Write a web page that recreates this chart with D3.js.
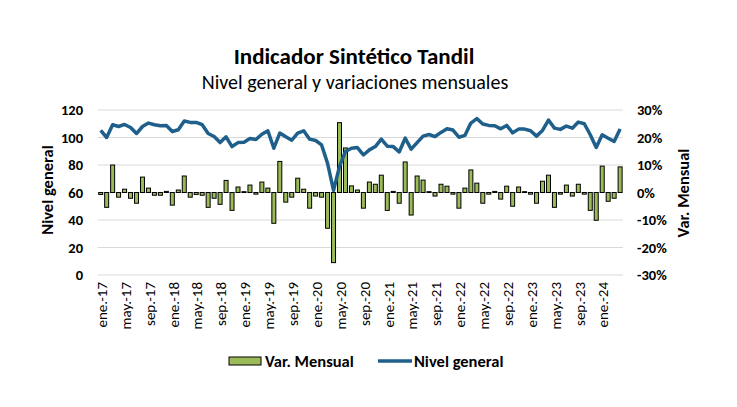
<!DOCTYPE html>
<html><head><meta charset="utf-8">
<script src="https://cdn.jsdelivr.net/npm/d3@7"></script>
<style>
body{margin:0;background:#fff;}
svg{font-family:Carlito,Calibri,Lato,"Open Sans",sans-serif;}
</style></head>
<body><svg id="c" width="737" height="407"></svg>
<script>
const monthNames = ["ene","feb","mar","abr","may","jun","jul","ago","sep","oct","nov","dic"];
const years = ["17","18","19","20","21","22","23","24"];
const nMonths = 88;
const nivel = [105.1,100.0,109.3,108.0,109.5,107.3,102.9,108.0,110.5,109.3,108.5,108.8,
 104.4,105.6,112.0,111.0,111.0,109.3,102.9,100.7,96.3,100.5,93.4,96.3,
 96.6,99.3,98.5,102.4,104.9,92.2,103.2,100.5,98.0,103.2,104.9,98.8,
 97.8,94.6,81.2,61.5,79.0,89.8,92.2,92.7,87.3,91.0,93.4,98.8,
 93.7,93.4,89.5,99.5,91.5,96.3,101.0,102.2,100.7,103.7,106.3,105.4,
 100.2,101.5,110.5,113.7,109.8,108.8,108.5,106.3,108.8,103.4,106.1,106.1,
 104.9,101.0,105.1,112.7,106.8,105.9,108.3,106.8,111.2,110.0,102.0,92.7,
 102.0,99.5,97.1,106.1];
const variacion = [-0.7,-5.4,10.0,-1.7,1.2,-2.1,-3.9,5.6,1.6,-1.0,-1.0,0.4,
 -4.6,0.9,6.0,-1.7,-0.7,-1.0,-5.4,-2.1,-4.3,4.4,-6.5,2.0,
 0.3,2.7,-0.6,3.8,1.6,-11.2,11.3,-3.5,-1.7,5.2,1.2,-5.7,
 -1.3,-1.7,-13.0,-25.5,25.4,16.2,2.4,0.9,-5.7,3.8,3.0,6.3,
 -6.5,0.4,-3.9,11.1,-8.2,6.0,4.5,0.3,-1.3,3.0,2.3,-0.6,
 -5.7,1.6,8.2,3.4,-3.9,-0.6,0.4,-2.4,2.3,-5.0,2.0,0.3,
 -0.6,-3.9,4.1,6.3,-5.4,-0.6,2.7,-1.3,3.0,-0.6,-6.5,-10.1,
 9.6,-3.2,-2.1,9.3];
const leftTicks = [0,20,40,60,80,100,120];
const rightTicks = [-0.3,-0.2,-0.1,0,0.1,0.2,0.3];

const categories = d3.range(nMonths).map(i => monthNames[i % 12] + ".-" + years[Math.floor(i / 12)]);

const svg = d3.select("#c");
const x = d3.scaleBand().domain(categories).range([97.7, 623.1]).paddingInner(0.33).paddingOuter(0.165);
const yL = d3.scaleLinear().domain([0,120]).range([275,110]);
const yR = d3.scaleLinear().domain([-0.3,0.3]).range([275,110]);
const cx = c => x(c) + x.bandwidth()/2;

// gridlines
svg.append("g").selectAll("line").data(leftTicks).join("line")
  .attr("x1",97.7).attr("x2",623.1).attr("y1",d=>yL(d)).attr("y2",d=>yL(d))
  .attr("stroke","#d9d9d9").attr("stroke-width",1);

// left axis labels
svg.append("g").selectAll("text").data(leftTicks).join("text")
  .attr("x",83).attr("y",d=>yL(d)).attr("dy","0.35em").attr("text-anchor","end")
  .attr("font-size",14.5).attr("font-weight","bold").attr("fill","#000").text(d=>d);
// right axis labels
const pct = d3.format(".0%");
svg.append("g").selectAll("text").data(rightTicks).join("text")
  .attr("x",637).attr("y",d=>yR(d)).attr("dy","0.35em").attr("text-anchor","start")
  .attr("font-size",14.5).attr("font-weight","bold").attr("fill","#000").text(d=>pct(d).replace("−","-"));

// bars
svg.append("g").selectAll("rect").data(variacion).join("rect")
  .attr("x",(d,i)=>x(categories[i])).attr("width",x.bandwidth())
  .attr("y",d=>yR(Math.max(0,d/100))).attr("height",d=>Math.abs(yR(d/100)-yR(0)))
  .attr("fill","#9bbb59").attr("stroke","#000").attr("stroke-width",1);

// line
const line = d3.line().x((d,i)=>cx(categories[i])).y(d=>yL(d));
svg.append("path").datum(nivel).attr("d",line).attr("fill","none")
  .attr("stroke","#1f5f8b").attr("stroke-width",3.5).attr("stroke-linejoin","round");

// x labels
svg.append("g").selectAll("text").data(categories.filter((c,i)=>i%4===0)).join("text")
  .attr("transform",c=>`translate(${cx(c)+1},282) rotate(-90)`)
  .attr("dy","0.35em").attr("text-anchor","end").attr("font-size",15).attr("fill","#000").text(c=>c);

// titles
svg.append("text").attr("x",354).attr("y",64).attr("text-anchor","middle")
  .attr("font-size",23).attr("font-weight","bold").text("Indicador Sintético Tandil");
svg.append("text").attr("x",355).attr("y",89).attr("text-anchor","middle")
  .attr("font-size",20).text("Nivel general y variaciones mensuales");
svg.append("text").attr("transform","translate(47,190) rotate(-90)").attr("dy","0.35em")
  .attr("text-anchor","middle").attr("font-size",16.5).attr("font-weight","bold").text("Nivel general");
svg.append("text").attr("transform","translate(683,193) rotate(-90)").attr("dy","0.35em")
  .attr("text-anchor","middle").attr("font-size",16.5).attr("font-weight","bold").text("Var. Mensual");

// legend
const lg = svg.append("g");
lg.append("rect").attr("x",229).attr("y",357).attr("width",32).attr("height",8)
  .attr("fill","#9bbb59").attr("stroke","#000").attr("stroke-width",1);
lg.append("text").attr("x",265).attr("y",361).attr("dy","0.35em").attr("font-size",16.5)
  .attr("font-weight","bold").text("Var. Mensual");
lg.append("line").attr("x1",378).attr("x2",412).attr("y1",361).attr("y2",361)
  .attr("stroke","#1f5f8b").attr("stroke-width",3.5);
lg.append("text").attr("x",414).attr("y",361).attr("dy","0.35em").attr("font-size",16.5)
  .attr("font-weight","bold").text("Nivel general");
</script></body></html>
